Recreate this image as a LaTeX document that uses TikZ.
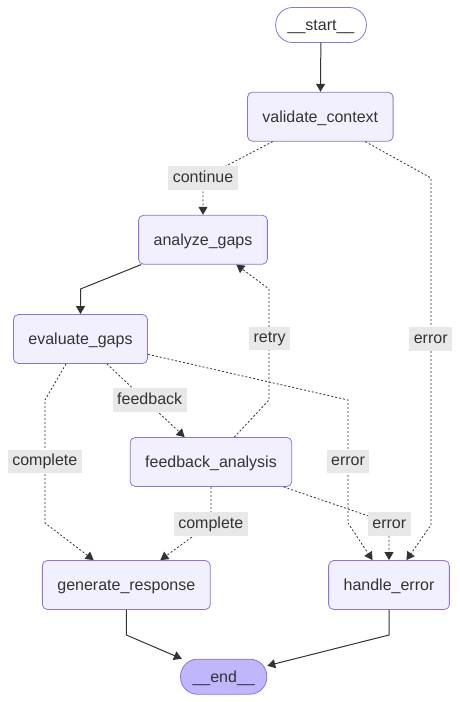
\documentclass[tikz,border=0pt]{standalone}
\usepackage{fontspec}
\setmainfont{Liberation Sans}
\usetikzlibrary{arrows.meta, positioning, calc}

\definecolor{nodefill}{HTML}{F2F0FF}
\definecolor{nodeline}{HTML}{9370DB}
\definecolor{endfill}{HTML}{BFB6FC}
\definecolor{edgeline}{HTML}{333333}
\definecolor{labelbg}{HTML}{E8E8E8}

\begin{document}
\begin{tikzpicture}[
    x=1pt, y=-1pt,
    task/.style={draw=nodeline, fill=nodefill, rectangle, rounded corners=5pt, line width=0.8pt,
        inner xsep=15pt, minimum height=49pt, text height=12.5pt, text depth=1pt,
        text=edgeline, font=\fontsize{16}{19}\selectfont},
    terminal/.style={task, rounded corners=17pt, inner xsep=12pt, minimum height=35pt},
    cond label/.style={fill=labelbg, inner xsep=4.5pt, inner ysep=0pt, minimum height=23.5pt,
        text height=11.5pt, text depth=3.5pt, text=edgeline, font=\fontsize{16}{19}\selectfont},
    flow/.style={draw=edgeline, line width=1pt, -{Triangle[length=8pt, width=9pt]}},
    branch/.style={flow, line width=0.8pt, dash pattern=on 2pt off 2pt}
]
\useasboundingbox (0,0) rectangle (460,702);

% ====================
% Nodi
% ====================
\node[terminal, fill=white] (start) at (321, 25) {\_\_start\_\_};
\node[task] (validate) at (320.3, 116.7) {validate\_context};
\node[task] (analyze) at (203, 239.7) {analyze\_gaps};
\node[task] (evaluate) at (80.5, 339) {evaluate\_gaps};
\node[task] (feedback) at (211, 462) {feedback\_analysis};
\node[task] (generate) at (126.3, 585) {generate\_response};
\node[task] (handle) at (389, 585) {handle\_error};
\node[terminal, fill=endfill] (end) at (223.7, 676.7) {\_\_end\_\_};

% ====================
% Collegamenti
% ====================
\draw[flow] (start) -- (validate);

% validate_context
\draw[branch] (validate) -- (203, 178) -- (analyze);
\draw[branch] (validate) -- (431, 178) -- (431, 525) -- (handle);

% analyze_gaps -> evaluate_gaps
\draw[flow] (analyze) -- (80.5, 289) -- (evaluate);

% evaluate_gaps
\draw[branch] (evaluate) -- (45, 400) -- (45, 523) -- (generate);
\draw[branch] (evaluate) -- (feedback);
\draw[branch] (evaluate) -- (348, 400) -- (348, 523) -- (handle);

% feedback_analysis
\draw[branch] (feedback) -- (269, 400) -- (269, 289) -- (analyze);
\draw[branch] (feedback) -- (211, 523) -- (generate);
\draw[branch] (feedback) -- (389, 523) -- (handle);

% verso __end__
\draw[flow] (generate) -- (126.3, 635) -- (end);
\draw[flow] (handle) -- (389, 635) -- (end);

% ====================
% Etichette
% ====================
\node[cond label] (l_continue) at (203, 178) {continue};
\node[cond label] (l_retry) at (269.6, 338.7) {retry};
\node[cond label] (l_err_vc) at (430.7, 339) {error};
\node[cond label] (l_feedback) at (149.7, 400) {feedback};
\node[cond label] (l_compl_ev) at (44.8, 461.7) {complete};
\node[cond label] (l_err_ev) at (348, 461.7) {error};
\node[cond label] (l_compl_fa) at (210.8, 524) {complete};
\node[cond label] (l_err_fa) at (389.3, 524) {error};

\end{tikzpicture}
\end{document}
